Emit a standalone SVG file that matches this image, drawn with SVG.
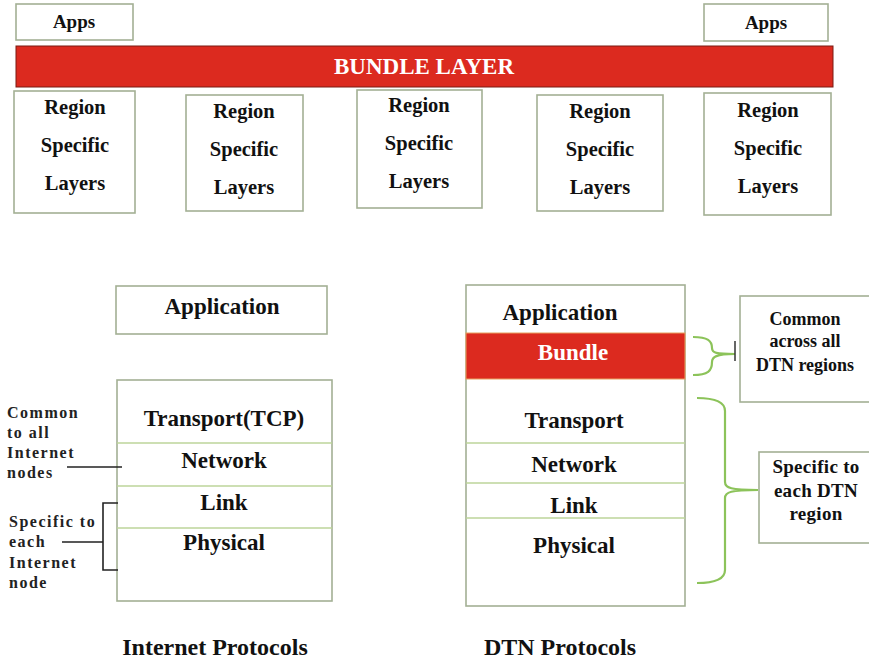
<svg xmlns="http://www.w3.org/2000/svg" width="869" height="663" viewBox="0 0 869 663">
<style>
.box{fill:#fff;stroke:#a3b094;stroke-width:1.6}
.sep{stroke:#bcd49a;stroke-width:1.4}
.t{font-family:"Liberation Serif",serif;font-weight:bold;fill:#111;text-anchor:middle}
.cap{font-size:24px}
.big{font-size:23px}
.reg{font-size:20.5px}
.app{font-size:19px}
.cb{font-size:18px}
.sb{font-size:19px;letter-spacing:0.3px}
.lbl{font-family:"Liberation Serif",serif;font-weight:bold;fill:#222;font-size:16px;letter-spacing:1.5px}
.red{fill:#dc2a1f;stroke:#7a1a12;stroke-width:1}
.brace{fill:none;stroke:#8cc35a;stroke-width:2.2}
.ln{fill:none;stroke:#222;stroke-width:1.6}
</style>
<rect width="869" height="663" fill="#fff"/>
<g id="apps-left"><rect class="box" x="16" y="4" width="117" height="36"/><text class="t app" x="74" y="28">Apps</text></g>
<g id="apps-right"><rect class="box" x="704" y="4" width="124" height="37"/><text class="t app" x="766" y="29">Apps</text></g>
<g id="bundle-layer"><rect class="red" x="16" y="46" width="817" height="41"/><text class="t big" x="424" y="74" style="fill:#fff">BUNDLE LAYER</text></g>
<g id="region1"><rect class="box" x="14" y="91" width="121" height="122"/><text class="t reg" x="75" y="114">Region</text><text class="t reg" x="75" y="152">Specific</text><text class="t reg" x="75" y="190">Layers</text></g>
<g id="region2"><rect class="box" x="186" y="95" width="117" height="116"/><text class="t reg" x="244" y="118">Region</text><text class="t reg" x="244" y="156">Specific</text><text class="t reg" x="244" y="194">Layers</text></g>
<g id="region3"><rect class="box" x="357" y="90" width="125" height="118"/><text class="t reg" x="419" y="112">Region</text><text class="t reg" x="419" y="150">Specific</text><text class="t reg" x="419" y="188">Layers</text></g>
<g id="region4"><rect class="box" x="537" y="95" width="126" height="116"/><text class="t reg" x="600" y="118">Region</text><text class="t reg" x="600" y="156">Specific</text><text class="t reg" x="600" y="194">Layers</text></g>
<g id="region5"><rect class="box" x="704" y="93" width="127" height="122"/><text class="t reg" x="768" y="117">Region</text><text class="t reg" x="768" y="155">Specific</text><text class="t reg" x="768" y="193">Layers</text></g>

<g id="inet-application"><rect class="box" x="116" y="286" width="211" height="48"/><text class="t big" x="222" y="314">Application</text></g>
<g id="inet-stack">
<rect class="box" x="117" y="380" width="215" height="221"/>
<line class="sep" x1="117" y1="443" x2="332" y2="443"/>
<line class="sep" x1="117" y1="486" x2="332" y2="486"/>
<line class="sep" x1="117" y1="528" x2="332" y2="528"/>
<text class="t big" x="224" y="426">Transport(TCP)</text>
<text class="t big" x="224" y="468">Network</text>
<text class="t big" x="224" y="510">Link</text>
<text class="t big" x="224" y="550">Physical</text>
</g>
<g id="inet-common-label"><text class="lbl" x="7" y="418">Common</text><text class="lbl" x="7" y="438">to all</text><text class="lbl" x="7" y="458">Internet</text><text class="lbl" x="7" y="478">nodes</text></g>
<g id="inet-specific-label"><text class="lbl" x="9" y="527">Specific to</text><text class="lbl" x="9" y="547">each</text><text class="lbl" x="9" y="568">Internet</text><text class="lbl" x="9" y="588">node</text></g>

<g id="dtn-stack">
<rect class="box" x="466" y="285" width="219" height="321"/>
<rect x="466" y="333" width="219" height="46" fill="#dc2a1f" stroke="#e8a060" stroke-width="1"/>
<line class="sep" x1="466" y1="443" x2="685" y2="443"/>
<line class="sep" x1="466" y1="483" x2="685" y2="483"/>
<line class="sep" x1="466" y1="518" x2="685" y2="518"/>
<text class="t big" x="560" y="320">Application</text>
<text class="t big" x="573" y="360" style="fill:#fff">Bundle</text>
<text class="t big" x="574" y="428">Transport</text>
<text class="t big" x="574" y="472">Network</text>
<text class="t big" x="574" y="513">Link</text>
<text class="t big" x="574" y="553">Physical</text>
</g>
<g id="dtn-common-box"><rect class="box" x="740" y="296" width="130" height="106"/><text class="t cb" x="805" y="325">Common</text><text class="t cb" x="805" y="347">across all</text><text class="t cb" x="805" y="371">DTN regions</text></g>
<g id="dtn-specific-box"><rect class="box" x="759" y="452" width="111" height="91"/><text class="t sb" x="816" y="473">Specific to</text><text class="t sb" x="816" y="497">each DTN</text><text class="t sb" x="816" y="520">region</text></g>

<g id="connectors">
<line class="ln" x1="67" y1="467" x2="122" y2="467"/>
<path class="ln" d="M118 503 H103 V570 H118 M62 542 H103"/>
<path class="brace" d="M693 337 C708 337 712 341 712 348 C712 353 716 354 735 354 M693 375 C708 375 712 371 712 362 C712 357 716 354 735 354"/>
<line stroke="#333" stroke-width="1.5" x1="735" y1="341" x2="735" y2="361"/>
<path class="brace" d="M697 398 C716 398 725 402 725 411 V482 C725 488 731 490 758 490 M697 583 C716 583 725 579 725 570 V498 C725 492 731 490 758 490"/>
</g>

<g id="captions"><text class="t cap" x="215" y="655">Internet Protocols</text><text class="t cap" x="560" y="655">DTN Protocols</text></g>
</svg>
